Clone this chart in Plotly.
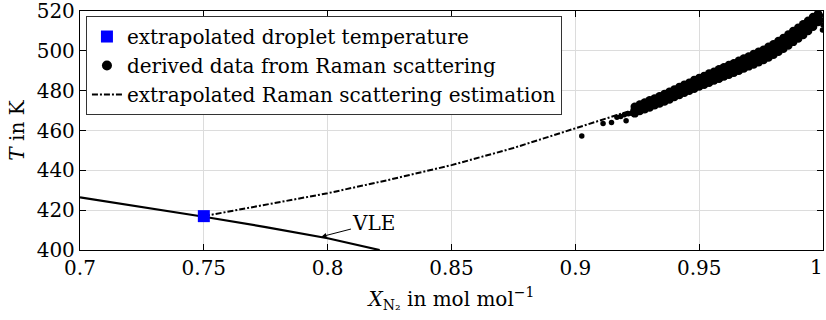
import plotly.graph_objects as go

# Vapour-liquid equilibrium curve
vle_x = [0.700, 0.725, 0.750, 0.775, 0.800, 0.821]
vle_T = [426.4, 421.6, 416.7, 411.5, 405.9, 400.0]

# Extrapolation of the Raman-derived temperatures towards the VLE
ext_x = [0.750, 0.775, 0.800, 0.825, 0.850, 0.875, 0.900, 0.910, 0.925]
ext_T = [417.0, 422.6, 428.5, 435.3, 442.6, 451.2, 461.0, 465.2, 471.0]

# Extrapolated droplet temperature
drop_x = [0.750]
drop_T = [417.0]

# Temperatures derived from Raman scattering: sparse onset points and the tip
raman_sparse_x = [0.9026, 0.9112, 0.9146, 0.9168, 0.9183, 0.9198, 0.9205, 0.9214, 0.9226,
                  0.9990, 0.9995, 1.0000, 0.9998, 0.9985]
raman_sparse_T = [457.2, 463.5, 464.0, 466.6, 467.0, 467.9, 464.9, 468.4, 468.7,
                  517.8, 515.5, 513.0, 510.5, 518.4]

# Dense band of Raman data: lower edge, middle and upper edge
raman_x = [0.924, 0.926, 0.928, 0.930, 0.932, 0.934, 0.936, 0.938, 0.940, 0.942,
           0.944, 0.946, 0.948, 0.950, 0.952, 0.954, 0.956, 0.958, 0.960, 0.962,
           0.964, 0.966, 0.968, 0.970, 0.972, 0.974, 0.976, 0.978, 0.980, 0.982,
           0.984, 0.986, 0.988, 0.990, 0.992, 0.994, 0.996, 0.998]
raman_T_mid = [470.3, 471.3, 472.4, 473.4, 474.4, 475.4, 476.5, 477.6, 478.7, 479.9,
               481.0, 482.1, 483.2, 484.2, 485.2, 486.3, 487.3, 488.4, 489.4, 490.4,
               491.4, 492.5, 493.6, 494.7, 495.8, 496.9, 498.0, 499.3, 500.7, 502.2,
               503.8, 505.5, 507.2, 508.9, 510.7, 512.6, 514.6, 516.8]
raman_T_hi = [471.9, 473.0, 474.0, 475.2, 476.1, 477.2, 478.3, 479.5, 480.6, 481.8,
              483.0, 484.0, 485.3, 486.4, 487.4, 488.6, 489.5, 490.8, 491.8, 492.9,
              493.8, 495.0, 496.2, 497.2, 498.4, 499.5, 500.6, 502.0, 503.3, 504.9,
              506.4, 508.2, 509.9, 511.6, 513.4, 515.1, 517.0, 518.6]
raman_T_lo = [468.6, 469.8, 470.7, 471.6, 472.7, 473.5, 474.6, 475.6, 476.8, 477.8,
              479.0, 480.0, 481.0, 482.1, 483.0, 484.0, 485.1, 486.0, 487.1, 488.0,
              489.0, 490.0, 491.1, 492.2, 493.1, 494.3, 495.4, 496.6, 498.0, 499.5,
              501.1, 502.7, 504.5, 506.2, 508.0, 510.0, 512.1, 514.5]

# Axis ticks; the label of the last x tick is placed separately, right-aligned
x_ticks = [0.7, 0.75, 0.8, 0.85, 0.9, 0.95, 1.0]
x_tick_text = ["0.7", "0.75", "0.8", "0.85", "0.9", "0.95", ""]
x_last_label = "1"
y_ticks = [400, 420, 440, 460, 480, 500, 520]

FONT = "DejaVu Serif, serif"
FS = 20

fig = go.Figure()

fig.add_trace(go.Scatter(x=vle_x, y=vle_T, mode="lines",
                         line=dict(color="black", width=2.2), showlegend=False))

fig.add_trace(go.Scatter(x=ext_x, y=ext_T, mode="lines",
                         line=dict(color="black", width=2, dash="6px,2px,2px,2px"),
                         name="extrapolated Raman scattering estimation", legendrank=3))

band_x = raman_x * 3
band_T = raman_T_lo + raman_T_mid + raman_T_hi
fig.add_trace(go.Scatter(x=band_x, y=band_T, mode="markers",
                         marker=dict(color="black", size=8.5, symbol="circle"),
                         showlegend=False))
fig.add_trace(go.Scatter(x=raman_sparse_x, y=raman_sparse_T, mode="markers",
                         marker=dict(color="black", size=5.5, symbol="circle"),
                         showlegend=False))
# legend entry for the Raman data
fig.add_trace(go.Scatter(x=[None], y=[None], mode="markers",
                         marker=dict(color="black", size=10, symbol="circle"),
                         name="derived data from Raman scattering", legendrank=2))

fig.add_trace(go.Scatter(x=drop_x, y=drop_T, mode="markers",
                         marker=dict(color="#0000ff", size=12, symbol="square"),
                         name="extrapolated droplet temperature", legendrank=1))

fig.add_annotation(x=0.7975, y=406.7, ax=0.8187, ay=413.5, axref="x", ayref="y",
                   text="VLE", showarrow=True, arrowhead=2, arrowsize=1,
                   arrowwidth=1, arrowcolor="black",
                   font=dict(family=FONT, size=FS, color="black"))

# right-aligned label for the final x tick
fig.add_annotation(x=x_ticks[-1], xref="x", y=0, yref="paper",
                   xanchor="right", yanchor="top", yshift=-3, xshift=2,
                   text=x_last_label, showarrow=False,
                   font=dict(family=FONT, size=FS, color="black"))

axis_common = dict(showline=True, linecolor="black", linewidth=1.3, mirror="ticks",
                   ticks="inside", ticklen=6, tickwidth=1, tickcolor="black",
                   showgrid=True, gridcolor="#dcdcdc", gridwidth=1, zeroline=False,
                   ticklabeloverflow="allow", automargin=False,
                   tickfont=dict(family=FONT, size=FS, color="black"))

fig.update_xaxes(range=[0.7, 1.0], tickvals=x_ticks, ticktext=x_tick_text,
                 title=dict(text="<i>X</i><sub>N₂</sub> in mol mol<sup>−1</sup>",
                            font=dict(family=FONT, size=FS, color="black"), standoff=12),
                 **axis_common)
fig.update_yaxes(range=[400, 520], tickvals=y_ticks,
                 title=dict(text="<i>T</i> in K",
                            font=dict(family=FONT, size=FS, color="black"), standoff=6),
                 **axis_common)

fig.update_layout(
    width=826, height=320,
    margin=dict(l=80, r=3, t=11, b=70, autoexpand=False),
    paper_bgcolor="white", plot_bgcolor="white",
    font=dict(family=FONT, size=FS, color="black"),
    legend=dict(x=0.008, y=0.979, xanchor="left", yanchor="top",
                bgcolor="white", bordercolor="#333333", borderwidth=1,
                font=dict(family=FONT, size=FS, color="black"),
                itemwidth=30, tracegroupgap=0),
)

fig.write_html("out.html")
